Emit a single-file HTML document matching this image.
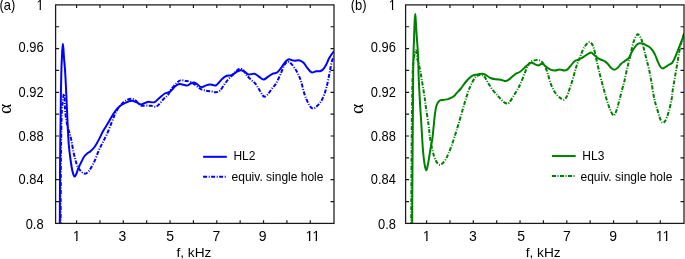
<!DOCTYPE html>
<html><head><meta charset="utf-8"><title>Absorption coefficient</title>
<style>
html,body{margin:0;padding:0;background:#fff;}
body{width:685px;height:259px;overflow:hidden;}
svg{display:block;}
</style></head><body>
<svg width="685" height="259" viewBox="0 0 685 259">
<rect width="685" height="259" fill="#fff"/>
<path d="M76.57,223.40V220.20 M76.57,4.90V8.10 M99.94,223.40V220.20 M99.94,4.90V8.10 M123.31,223.40V220.20 M123.31,4.90V8.10 M146.68,223.40V220.20 M146.68,4.90V8.10 M170.05,223.40V220.20 M170.05,4.90V8.10 M193.42,223.40V220.20 M193.42,4.90V8.10 M216.79,223.40V220.20 M216.79,4.90V8.10 M240.16,223.40V220.20 M240.16,4.90V8.10 M263.53,223.40V220.20 M263.53,4.90V8.10 M286.90,223.40V220.20 M286.90,4.90V8.10 M310.27,223.40V220.20 M310.27,4.90V8.10 M55.60,201.55H59.10 M334.00,201.55H330.50 M55.60,179.70H59.10 M334.00,179.70H330.50 M55.60,157.85H59.10 M334.00,157.85H330.50 M55.60,136.00H59.10 M334.00,136.00H330.50 M55.60,114.15H59.10 M334.00,114.15H330.50 M55.60,92.30H59.10 M334.00,92.30H330.50 M55.60,70.45H59.10 M334.00,70.45H330.50 M55.60,48.60H59.10 M334.00,48.60H330.50 M55.60,26.75H59.10 M334.00,26.75H330.50" stroke="#1a1a1a" stroke-width="1.2" fill="none"/>
<clipPath id="c0"><rect x="55.60" y="4.90" width="278.40" height="218.50"/></clipPath>
<g clip-path="url(#c0)" fill="none" stroke="#0000ff" stroke-width="2" stroke-linejoin="round">
<path d="M60.60,226.00 C60.62,221.67 60.65,211.00 60.70,200.00 C60.75,189.00 60.80,171.67 60.90,160.00 C61.00,148.33 61.13,138.33 61.30,130.00 C61.47,121.67 61.60,115.25 61.90,110.00 C62.20,104.75 62.77,101.18 63.10,98.50 C63.43,95.82 63.63,94.07 63.90,93.90 C64.17,93.73 64.55,95.65 64.70,97.50 C64.85,99.35 64.65,102.08 64.80,105.00 C64.95,107.92 65.20,111.67 65.60,115.00 C66.00,118.33 66.55,122.00 67.20,125.00 C67.85,128.00 68.78,130.33 69.50,133.00 C70.22,135.67 70.87,137.97 71.50,141.00 C72.13,144.03 72.68,148.20 73.30,151.20 C73.92,154.20 74.55,156.58 75.20,159.00 C75.85,161.42 76.22,163.62 77.20,165.70 C78.18,167.78 79.87,170.18 81.10,171.50 C82.33,172.82 83.53,173.43 84.60,173.60 C85.67,173.77 86.50,173.35 87.50,172.50 C88.50,171.65 89.37,170.53 90.60,168.50 C91.83,166.47 93.48,163.43 94.90,160.30 C96.32,157.17 97.68,152.88 99.10,149.70 C100.52,146.52 101.98,144.03 103.40,141.20 C104.82,138.37 106.20,135.88 107.60,132.70 C109.00,129.52 110.55,125.22 111.80,122.10 C113.05,118.98 113.98,116.38 115.10,114.00 C116.22,111.62 117.52,109.33 118.50,107.80 C119.48,106.27 119.88,105.97 121.00,104.80 C122.12,103.63 123.45,101.82 125.20,100.80 C126.95,99.78 129.77,98.73 131.50,98.70 C133.23,98.67 134.43,99.80 135.60,100.60 C136.77,101.40 137.63,102.67 138.50,103.50 C139.37,104.33 139.55,105.25 140.80,105.60 C142.05,105.95 144.25,105.57 146.00,105.60 C147.75,105.63 149.65,105.62 151.30,105.80 C152.95,105.98 154.52,107.03 155.90,106.70 C157.28,106.37 158.28,105.13 159.60,103.80 C160.92,102.47 162.42,100.17 163.80,98.70 C165.18,97.23 166.67,96.57 167.90,95.00 C169.13,93.43 169.80,91.23 171.20,89.30 C172.60,87.37 174.77,84.88 176.30,83.40 C177.83,81.92 178.85,80.82 180.40,80.40 C181.95,79.98 183.87,80.63 185.60,80.90 C187.33,81.17 189.07,81.22 190.80,82.00 C192.53,82.78 194.25,84.38 196.00,85.60 C197.75,86.82 199.55,88.43 201.30,89.30 C203.05,90.17 204.77,90.45 206.50,90.80 C208.23,91.15 210.15,91.15 211.70,91.40 C213.25,91.65 214.42,92.43 215.80,92.30 C217.18,92.17 218.60,91.88 220.00,90.60 C221.40,89.32 222.82,86.48 224.20,84.60 C225.58,82.72 226.85,80.95 228.30,79.30 C229.75,77.65 231.37,76.25 232.90,74.70 C234.43,73.15 236.22,71.03 237.50,70.00 C238.78,68.97 239.57,68.37 240.60,68.50 C241.63,68.63 242.67,69.65 243.70,70.80 C244.73,71.95 245.52,73.85 246.80,75.40 C248.08,76.95 250.03,78.80 251.40,80.10 C252.77,81.40 253.88,81.93 255.00,83.20 C256.12,84.47 257.07,86.05 258.10,87.70 C259.13,89.35 260.17,91.60 261.20,93.10 C262.23,94.60 263.15,96.57 264.30,96.70 C265.45,96.83 266.82,95.27 268.10,93.90 C269.38,92.53 270.72,90.17 272.00,88.50 C273.28,86.83 274.38,86.27 275.80,83.90 C277.22,81.53 279.08,77.43 280.50,74.30 C281.92,71.17 283.15,67.15 284.30,65.10 C285.45,63.05 286.37,62.35 287.40,62.00 C288.43,61.65 289.20,61.85 290.50,63.00 C291.80,64.15 293.78,66.75 295.20,68.90 C296.62,71.05 297.95,73.55 299.00,75.90 C300.05,78.25 300.60,80.00 301.50,83.00 C302.40,86.00 303.40,90.80 304.40,93.90 C305.40,97.00 306.47,99.42 307.50,101.60 C308.53,103.78 309.62,105.83 310.60,107.00 C311.58,108.17 312.37,108.72 313.40,108.60 C314.43,108.48 315.47,107.60 316.80,106.30 C318.13,105.00 320.12,102.87 321.40,100.80 C322.68,98.73 323.60,96.33 324.50,93.90 C325.40,91.47 326.12,88.85 326.80,86.20 C327.48,83.55 328.02,80.87 328.60,78.00 C329.18,75.13 329.70,71.93 330.30,69.00 C330.90,66.07 331.50,62.57 332.20,60.40 C332.90,58.23 334.12,56.73 334.50,56.00" stroke-dasharray="4 1.6 1 1.4"/>
<path d="M59.80,226.00 C59.82,221.67 59.85,211.00 59.90,200.00 C59.95,189.00 59.98,173.33 60.10,160.00 C60.22,146.67 60.46,131.67 60.60,120.00 C60.74,108.33 60.82,98.33 60.95,90.00 C61.08,81.67 61.24,75.33 61.40,70.00 C61.56,64.67 61.75,61.33 61.90,58.00 C62.05,54.67 62.13,52.33 62.30,50.00 C62.47,47.67 62.70,44.00 62.90,44.00 C63.10,44.00 63.32,47.67 63.50,50.00 C63.68,52.33 63.77,55.00 64.00,58.00 C64.23,61.00 64.63,64.33 64.90,68.00 C65.17,71.67 65.37,75.50 65.60,80.00 C65.83,84.50 66.07,90.00 66.30,95.00 C66.53,100.00 66.73,104.17 67.00,110.00 C67.27,115.83 67.60,124.17 67.90,130.00 C68.20,135.83 68.40,140.33 68.80,145.00 C69.20,149.67 69.73,153.83 70.30,158.00 C70.87,162.17 71.53,166.95 72.20,170.00 C72.87,173.05 73.62,175.63 74.30,176.30 C74.98,176.97 75.65,175.28 76.30,174.00 C76.95,172.72 77.40,170.52 78.20,168.60 C79.00,166.68 80.10,164.52 81.10,162.50 C82.10,160.48 83.13,158.05 84.20,156.50 C85.27,154.95 86.45,154.07 87.50,153.20 C88.55,152.33 89.27,152.42 90.50,151.30 C91.73,150.18 93.47,148.53 94.90,146.50 C96.33,144.47 97.68,141.75 99.10,139.10 C100.52,136.45 101.98,133.15 103.40,130.60 C104.82,128.05 106.30,125.98 107.60,123.80 C108.90,121.62 109.95,119.58 111.20,117.50 C112.45,115.42 113.63,113.22 115.10,111.30 C116.57,109.38 118.32,107.40 120.00,106.00 C121.68,104.60 123.28,103.77 125.20,102.90 C127.12,102.03 129.58,100.88 131.50,100.80 C133.42,100.72 135.05,101.80 136.70,102.40 C138.35,103.00 139.58,104.48 141.40,104.40 C143.22,104.32 145.43,102.27 147.60,101.90 C149.77,101.53 152.40,102.90 154.40,102.20 C156.40,101.50 157.87,99.15 159.60,97.70 C161.33,96.25 163.23,94.42 164.80,93.50 C166.37,92.58 167.80,92.82 169.00,92.20 C170.20,91.58 170.97,90.80 172.00,89.80 C173.03,88.80 173.92,87.17 175.20,86.20 C176.48,85.23 177.78,84.10 179.70,84.00 C181.62,83.90 184.90,85.67 186.70,85.60 C188.50,85.53 189.28,84.10 190.50,83.60 C191.72,83.10 192.83,82.45 194.00,82.60 C195.17,82.75 196.28,83.73 197.50,84.50 C198.72,85.27 199.97,87.02 201.30,87.20 C202.63,87.38 204.12,86.05 205.50,85.60 C206.88,85.15 208.35,84.60 209.60,84.50 C210.85,84.40 211.97,84.83 213.00,85.00 C214.03,85.17 214.80,85.92 215.80,85.50 C216.80,85.08 217.95,83.58 219.00,82.50 C220.05,81.42 220.80,80.12 222.10,79.00 C223.40,77.88 225.25,76.43 226.80,75.80 C228.35,75.17 229.87,75.78 231.40,75.20 C232.93,74.62 234.47,73.13 236.00,72.30 C237.53,71.47 239.18,70.32 240.60,70.20 C242.02,70.08 243.22,70.90 244.50,71.60 C245.78,72.30 246.63,74.03 248.30,74.40 C249.97,74.77 252.73,73.43 254.50,73.80 C256.27,74.17 257.40,75.63 258.90,76.60 C260.40,77.57 261.97,79.58 263.50,79.60 C265.03,79.62 266.55,77.70 268.10,76.70 C269.65,75.70 271.25,74.33 272.80,73.60 C274.35,72.87 275.87,73.47 277.40,72.30 C278.93,71.13 280.58,68.45 282.00,66.60 C283.42,64.75 284.73,62.43 285.90,61.20 C287.07,59.97 287.72,59.30 289.00,59.20 C290.28,59.10 291.80,60.40 293.60,60.60 C295.40,60.80 298.13,60.03 299.80,60.40 C301.47,60.77 302.32,61.50 303.60,62.80 C304.88,64.10 306.20,66.62 307.50,68.20 C308.80,69.78 309.98,71.78 311.40,72.30 C312.82,72.82 314.58,71.48 316.00,71.30 C317.42,71.12 318.73,71.50 319.90,71.20 C321.07,70.90 321.98,70.52 323.00,69.50 C324.02,68.48 324.98,66.97 326.00,65.10 C327.02,63.23 328.07,60.23 329.10,58.30 C330.13,56.37 331.30,54.72 332.20,53.50 C333.10,52.28 334.12,51.42 334.50,51.00"/>
</g>
<rect x="55.60" y="4.90" width="278.40" height="218.50" fill="none" stroke="#1a1a1a" stroke-width="1.25"/>
<text transform="translate(43.60,9.90) scale(0.920,1)" text-anchor="end" style="font-family:'Liberation Sans',Arial,sans-serif;font-size:14px">1</text>
<rect x="36.726" y="9" width="2.899" height="1" fill="#fff"/><rect x="40.864" y="9" width="2.799" height="1" fill="#fff"/>
<text transform="translate(43.60,51.60) scale(0.920,1)" text-anchor="end" style="font-family:'Liberation Sans',Arial,sans-serif;font-size:14px">0.96</text>
<text transform="translate(43.60,97.10) scale(0.920,1)" text-anchor="end" style="font-family:'Liberation Sans',Arial,sans-serif;font-size:14px">0.92</text>
<text transform="translate(43.60,140.70) scale(0.920,1)" text-anchor="end" style="font-family:'Liberation Sans',Arial,sans-serif;font-size:14px">0.88</text>
<text transform="translate(43.60,183.90) scale(0.920,1)" text-anchor="end" style="font-family:'Liberation Sans',Arial,sans-serif;font-size:14px">0.84</text>
<text transform="translate(43.60,229.20) scale(0.920,1)" text-anchor="end" style="font-family:'Liberation Sans',Arial,sans-serif;font-size:14px">0.8</text>
<text x="76.57" y="240.60" text-anchor="middle" style="font-family:'Liberation Sans',Arial,sans-serif;font-size:14px">1</text>
<rect x="72.991" y="240" width="3.151" height="1" fill="#fff"/><rect x="77.489" y="240" width="3.042" height="1" fill="#fff"/>
<text x="122.51" y="240.60" text-anchor="middle" style="font-family:'Liberation Sans',Arial,sans-serif;font-size:14px">3</text>
<text x="170.05" y="240.60" text-anchor="middle" style="font-family:'Liberation Sans',Arial,sans-serif;font-size:14px">5</text>
<text x="216.39" y="240.60" text-anchor="middle" style="font-family:'Liberation Sans',Arial,sans-serif;font-size:14px">7</text>
<text x="262.73" y="240.60" text-anchor="middle" style="font-family:'Liberation Sans',Arial,sans-serif;font-size:14px">9</text>
<text x="312.67" y="240.60" text-anchor="middle" style="font-family:'Liberation Sans',Arial,sans-serif;font-size:14px">11</text>
<rect x="305.711" y="240" width="3.151" height="1" fill="#fff"/><rect x="310.209" y="240" width="3.042" height="1" fill="#fff"/>
<rect x="312.445" y="240" width="3.151" height="1" fill="#fff"/><rect x="316.943" y="240" width="3.042" height="1" fill="#fff"/>
<text x="193.90" y="256.50" text-anchor="middle" style="font-family:'Liberation Sans',Arial,sans-serif;font-size:13.7px">f, kHz</text>
<text transform="translate(11.00,108.80) rotate(-90)" text-anchor="middle" style="font-family:'Liberation Serif',serif;font-size:19.5px">&#945;</text>
<text transform="translate(-0.60,9.50) scale(0.925,1)" style="font-family:'Liberation Sans',Arial,sans-serif;font-size:14px">(a)</text>
<path d="M203.10,156.80H226.80" stroke="#0000ff" stroke-width="2"/>
<path d="M203.10,176.80H226.10" stroke="#0000ff" stroke-width="2" stroke-dasharray="4 1.6 1 1.4"/>
<text x="233.40" y="160.00" style="font-family:'Liberation Sans',Arial,sans-serif;font-size:12px">HL2</text>
<text x="231.60" y="181.30" style="font-family:'Liberation Sans',Arial,sans-serif;font-size:12px">equiv. single hole</text>
<path d="M426.57,223.40V220.20 M426.57,4.90V8.10 M449.94,223.40V220.20 M449.94,4.90V8.10 M473.31,223.40V220.20 M473.31,4.90V8.10 M496.68,223.40V220.20 M496.68,4.90V8.10 M520.05,223.40V220.20 M520.05,4.90V8.10 M543.42,223.40V220.20 M543.42,4.90V8.10 M566.79,223.40V220.20 M566.79,4.90V8.10 M590.16,223.40V220.20 M590.16,4.90V8.10 M613.53,223.40V220.20 M613.53,4.90V8.10 M636.90,223.40V220.20 M636.90,4.90V8.10 M660.27,223.40V220.20 M660.27,4.90V8.10 M405.60,201.55H409.10 M684.00,201.55H680.50 M405.60,179.70H409.10 M684.00,179.70H680.50 M405.60,157.85H409.10 M684.00,157.85H680.50 M405.60,136.00H409.10 M684.00,136.00H680.50 M405.60,114.15H409.10 M684.00,114.15H680.50 M405.60,92.30H409.10 M684.00,92.30H680.50 M405.60,70.45H409.10 M684.00,70.45H680.50 M405.60,48.60H409.10 M684.00,48.60H680.50 M405.60,26.75H409.10 M684.00,26.75H680.50" stroke="#1a1a1a" stroke-width="1.2" fill="none"/>
<clipPath id="c350"><rect x="405.60" y="4.90" width="278.40" height="218.50"/></clipPath>
<g clip-path="url(#c350)" fill="none" stroke="#008000" stroke-width="2" stroke-linejoin="round">
<path d="M411.20,226.00 C411.22,221.67 411.23,212.67 411.30,200.00 C411.37,187.33 411.47,166.67 411.60,150.00 C411.73,133.33 411.90,113.33 412.10,100.00 C412.30,86.67 412.48,77.17 412.80,70.00 C413.12,62.83 413.53,60.28 414.00,57.00 C414.47,53.72 415.17,50.80 415.60,50.30 C416.03,49.80 416.27,52.38 416.60,54.00 C416.93,55.62 417.20,58.17 417.60,60.00 C418.00,61.83 418.52,63.00 419.00,65.00 C419.48,67.00 420.03,69.50 420.50,72.00 C420.97,74.50 421.33,77.17 421.80,80.00 C422.27,82.83 422.83,86.17 423.30,89.00 C423.77,91.83 424.15,93.83 424.60,97.00 C425.05,100.17 425.33,103.33 426.00,108.00 C426.67,112.67 427.97,120.33 428.60,125.00 C429.23,129.67 429.33,132.60 429.80,136.00 C430.27,139.40 430.65,141.90 431.40,145.40 C432.15,148.90 433.33,154.10 434.30,157.00 C435.27,159.90 436.23,161.52 437.20,162.80 C438.17,164.08 438.97,164.85 440.10,164.70 C441.23,164.55 442.72,163.50 444.00,161.90 C445.28,160.30 446.52,157.85 447.80,155.10 C449.08,152.35 450.42,148.93 451.70,145.40 C452.98,141.87 454.40,137.35 455.50,133.90 C456.60,130.45 457.12,128.68 458.30,124.70 C459.48,120.72 461.30,114.45 462.60,110.00 C463.90,105.55 464.80,102.00 466.10,98.00 C467.40,94.00 468.95,89.33 470.40,86.00 C471.85,82.67 473.63,79.75 474.80,78.00 C475.97,76.25 476.37,76.00 477.40,75.50 C478.43,75.00 479.85,74.83 481.00,75.00 C482.15,75.17 483.17,75.27 484.30,76.50 C485.43,77.73 486.48,80.27 487.80,82.40 C489.12,84.53 490.60,87.13 492.20,89.30 C493.80,91.47 495.88,93.67 497.40,95.40 C498.92,97.13 499.88,98.38 501.30,99.70 C502.72,101.02 504.62,102.78 505.90,103.30 C507.18,103.82 507.72,104.03 509.00,102.80 C510.28,101.57 512.05,98.35 513.60,95.90 C515.15,93.45 517.15,90.15 518.30,88.10 C519.45,86.05 519.50,85.90 520.50,83.60 C521.50,81.30 523.15,77.13 524.30,74.30 C525.45,71.47 526.37,68.65 527.40,66.60 C528.43,64.55 529.33,63.03 530.50,62.00 C531.67,60.97 533.12,60.72 534.40,60.40 C535.68,60.08 537.05,59.97 538.20,60.10 C539.35,60.23 540.27,60.37 541.30,61.20 C542.33,62.03 543.37,63.17 544.40,65.10 C545.43,67.03 546.50,69.87 547.50,72.80 C548.50,75.73 549.43,79.92 550.40,82.70 C551.37,85.48 552.17,87.40 553.30,89.50 C554.43,91.60 555.90,93.78 557.20,95.30 C558.50,96.82 559.97,97.87 561.10,98.60 C562.23,99.33 563.03,100.10 564.00,99.70 C564.97,99.30 565.95,98.07 566.90,96.20 C567.85,94.33 568.75,91.23 569.70,88.50 C570.65,85.77 571.75,82.55 572.60,79.80 C573.45,77.05 574.10,74.45 574.80,72.00 C575.50,69.55 575.95,67.55 576.80,65.10 C577.65,62.65 578.87,59.88 579.90,57.30 C580.93,54.72 582.07,51.57 583.00,49.60 C583.93,47.63 584.58,46.72 585.50,45.50 C586.42,44.28 587.48,42.63 588.50,42.30 C589.52,41.97 590.68,42.40 591.60,43.50 C592.52,44.60 593.22,46.32 594.00,48.90 C594.78,51.48 595.48,55.42 596.30,59.00 C597.12,62.58 597.95,66.43 598.90,70.40 C599.85,74.37 601.10,79.37 602.00,82.80 C602.90,86.23 603.53,88.25 604.30,91.00 C605.07,93.75 605.70,96.38 606.60,99.30 C607.50,102.22 608.55,105.80 609.70,108.50 C610.85,111.20 612.35,115.23 613.50,115.50 C614.65,115.77 615.68,112.42 616.60,110.10 C617.52,107.78 618.10,104.95 619.00,101.60 C619.90,98.25 621.10,93.40 622.00,90.00 C622.90,86.60 623.50,84.98 624.40,81.20 C625.30,77.42 626.50,71.15 627.40,67.30 C628.30,63.45 629.12,60.98 629.80,58.10 C630.48,55.22 630.78,52.95 631.50,50.00 C632.22,47.05 633.15,42.97 634.10,40.40 C635.05,37.83 636.30,35.37 637.20,34.60 C638.10,33.83 638.73,34.83 639.50,35.80 C640.27,36.77 641.03,38.08 641.80,40.40 C642.57,42.72 643.33,46.60 644.10,49.70 C644.87,52.80 645.58,55.78 646.40,59.00 C647.22,62.22 648.17,65.17 649.00,69.00 C649.83,72.83 650.50,76.95 651.40,82.00 C652.30,87.05 653.38,94.62 654.40,99.30 C655.42,103.98 656.60,107.02 657.50,110.10 C658.40,113.18 659.02,115.70 659.80,117.80 C660.58,119.90 661.30,122.18 662.20,122.70 C663.10,123.22 664.18,122.50 665.20,120.90 C666.22,119.30 667.27,116.50 668.30,113.10 C669.33,109.70 670.68,104.18 671.40,100.50 C672.12,96.82 672.12,94.28 672.60,91.00 C673.08,87.72 673.73,84.12 674.30,80.80 C674.87,77.48 675.48,74.10 676.00,71.10 C676.52,68.10 676.93,65.57 677.40,62.80 C677.87,60.03 678.28,57.30 678.80,54.50 C679.32,51.70 679.88,48.67 680.50,46.00 C681.12,43.33 681.83,40.83 682.50,38.50 C683.17,36.17 684.17,33.08 684.50,32.00" stroke-dasharray="4 1.6 1 1.4"/>
<path d="M412.15,226.00 C412.17,221.67 412.18,212.67 412.25,200.00 C412.32,187.33 412.48,166.67 412.60,150.00 C412.73,133.33 412.90,113.33 413.00,100.00 C413.10,86.67 413.10,78.33 413.20,70.00 C413.30,61.67 413.47,55.00 413.60,50.00 C413.73,45.00 413.88,43.33 414.00,40.00 C414.12,36.67 414.18,33.33 414.30,30.00 C414.42,26.67 414.54,22.68 414.70,20.00 C414.86,17.32 415.07,13.90 415.25,13.90 C415.43,13.90 415.57,17.32 415.75,20.00 C415.93,22.68 416.09,26.67 416.30,30.00 C416.51,33.33 416.78,37.00 417.00,40.00 C417.22,43.00 417.38,44.67 417.60,48.00 C417.82,51.33 418.13,55.50 418.30,60.00 C418.47,64.50 418.43,70.00 418.60,75.00 C418.77,80.00 419.05,85.00 419.30,90.00 C419.55,95.00 419.75,99.17 420.10,105.00 C420.45,110.83 420.95,117.83 421.40,125.00 C421.85,132.17 422.30,141.67 422.80,148.00 C423.30,154.33 423.83,159.30 424.40,163.00 C424.97,166.70 425.60,170.03 426.20,170.20 C426.80,170.37 427.45,166.53 428.00,164.00 C428.55,161.47 429.00,158.00 429.50,155.00 C430.00,152.00 430.52,148.75 431.00,146.00 C431.48,143.25 431.95,141.83 432.40,138.50 C432.85,135.17 433.28,130.00 433.70,126.00 C434.12,122.00 434.42,117.95 434.90,114.50 C435.38,111.05 435.83,107.58 436.60,105.30 C437.37,103.02 438.38,101.70 439.50,100.80 C440.62,99.90 441.85,100.18 443.30,99.90 C444.75,99.62 446.75,99.53 448.20,99.10 C449.65,98.67 450.90,97.88 452.00,97.30 C453.10,96.72 454.05,96.28 454.80,95.60 C455.55,94.92 455.48,94.38 456.50,93.20 C457.52,92.02 459.30,90.45 460.90,88.50 C462.50,86.55 464.37,83.53 466.10,81.50 C467.83,79.47 469.57,77.45 471.30,76.30 C473.03,75.15 474.77,75.02 476.50,74.60 C478.23,74.18 480.25,73.80 481.70,73.80 C483.15,73.80 483.75,73.90 485.20,74.60 C486.65,75.30 488.57,77.22 490.40,78.00 C492.23,78.78 494.47,79.02 496.20,79.30 C497.93,79.58 499.50,79.45 500.80,79.70 C502.10,79.95 503.05,80.60 504.00,80.80 C504.95,81.00 505.48,81.27 506.50,80.90 C507.52,80.53 508.60,79.75 510.10,78.60 C511.60,77.45 513.90,75.10 515.50,74.00 C517.10,72.90 518.23,72.98 519.70,72.00 C521.17,71.02 522.75,69.47 524.30,68.10 C525.85,66.73 527.72,64.70 529.00,63.80 C530.28,62.90 530.98,62.62 532.00,62.70 C533.02,62.78 534.07,63.85 535.10,64.30 C536.13,64.75 537.03,65.48 538.20,65.40 C539.37,65.32 540.82,63.60 542.10,63.80 C543.38,64.00 544.48,65.62 545.90,66.60 C547.32,67.58 549.05,69.05 550.60,69.70 C552.15,70.35 553.67,70.55 555.20,70.50 C556.73,70.45 558.27,69.40 559.80,69.40 C561.33,69.40 563.12,70.50 564.40,70.50 C565.68,70.50 566.47,70.18 567.50,69.40 C568.53,68.62 569.43,67.17 570.60,65.80 C571.77,64.43 573.22,62.22 574.50,61.20 C575.78,60.18 577.12,60.20 578.30,59.70 C579.48,59.20 580.28,58.97 581.60,58.20 C582.92,57.43 584.65,56.05 586.20,55.10 C587.75,54.15 589.62,52.55 590.90,52.50 C592.18,52.45 592.92,54.02 593.90,54.80 C594.88,55.58 595.83,56.47 596.80,57.20 C597.77,57.93 598.42,58.55 599.70,59.20 C600.98,59.85 603.13,60.30 604.50,61.10 C605.87,61.90 606.78,62.87 607.90,64.00 C609.02,65.13 610.08,66.93 611.20,67.90 C612.32,68.87 613.47,69.88 614.60,69.80 C615.73,69.72 616.95,68.37 618.00,67.40 C619.05,66.43 619.78,65.05 620.90,64.00 C622.02,62.95 623.42,62.07 624.70,61.10 C625.98,60.13 627.63,59.25 628.60,58.20 C629.57,57.15 629.85,56.03 630.50,54.80 C631.15,53.57 631.52,52.42 632.50,50.80 C633.48,49.18 635.23,46.37 636.40,45.10 C637.57,43.83 638.35,43.42 639.50,43.20 C640.65,42.98 642.38,43.57 643.30,43.80 C644.22,44.03 644.03,44.10 645.00,44.60 C645.97,45.10 647.87,45.88 649.10,46.80 C650.33,47.72 651.40,48.75 652.40,50.10 C653.40,51.45 654.20,52.98 655.10,54.90 C656.00,56.82 656.90,59.58 657.80,61.60 C658.70,63.62 659.70,65.87 660.50,67.00 C661.30,68.13 661.80,68.40 662.60,68.40 C663.40,68.40 664.30,67.57 665.30,67.00 C666.30,66.43 667.48,65.67 668.60,65.00 C669.72,64.33 670.98,64.13 672.00,63.00 C673.02,61.87 673.80,60.12 674.70,58.20 C675.60,56.28 676.50,53.75 677.40,51.50 C678.30,49.25 679.30,46.70 680.10,44.70 C680.90,42.70 681.47,41.37 682.20,39.50 C682.93,37.63 684.12,34.50 684.50,33.50"/>
</g>
<rect x="405.60" y="4.90" width="278.40" height="218.50" fill="none" stroke="#1a1a1a" stroke-width="1.25"/>
<text transform="translate(395.90,9.90) scale(0.920,1)" text-anchor="end" style="font-family:'Liberation Sans',Arial,sans-serif;font-size:14px">1</text>
<rect x="389.026" y="9" width="2.899" height="1" fill="#fff"/><rect x="393.164" y="9" width="2.799" height="1" fill="#fff"/>
<text transform="translate(395.90,51.60) scale(0.920,1)" text-anchor="end" style="font-family:'Liberation Sans',Arial,sans-serif;font-size:14px">0.96</text>
<text transform="translate(395.90,97.10) scale(0.920,1)" text-anchor="end" style="font-family:'Liberation Sans',Arial,sans-serif;font-size:14px">0.92</text>
<text transform="translate(395.90,140.70) scale(0.920,1)" text-anchor="end" style="font-family:'Liberation Sans',Arial,sans-serif;font-size:14px">0.88</text>
<text transform="translate(395.90,183.90) scale(0.920,1)" text-anchor="end" style="font-family:'Liberation Sans',Arial,sans-serif;font-size:14px">0.84</text>
<text transform="translate(395.90,229.20) scale(0.920,1)" text-anchor="end" style="font-family:'Liberation Sans',Arial,sans-serif;font-size:14px">0.8</text>
<text x="426.57" y="240.60" text-anchor="middle" style="font-family:'Liberation Sans',Arial,sans-serif;font-size:14px">1</text>
<rect x="422.991" y="240" width="3.151" height="1" fill="#fff"/><rect x="427.489" y="240" width="3.042" height="1" fill="#fff"/>
<text x="473.01" y="240.60" text-anchor="middle" style="font-family:'Liberation Sans',Arial,sans-serif;font-size:14px">3</text>
<text x="521.05" y="240.60" text-anchor="middle" style="font-family:'Liberation Sans',Arial,sans-serif;font-size:14px">5</text>
<text x="566.84" y="240.60" text-anchor="middle" style="font-family:'Liberation Sans',Arial,sans-serif;font-size:14px">7</text>
<text x="613.08" y="240.60" text-anchor="middle" style="font-family:'Liberation Sans',Arial,sans-serif;font-size:14px">9</text>
<text x="662.97" y="240.60" text-anchor="middle" style="font-family:'Liberation Sans',Arial,sans-serif;font-size:14px">11</text>
<rect x="656.011" y="240" width="3.151" height="1" fill="#fff"/><rect x="660.510" y="240" width="3.042" height="1" fill="#fff"/>
<rect x="662.745" y="240" width="3.151" height="1" fill="#fff"/><rect x="667.244" y="240" width="3.042" height="1" fill="#fff"/>
<text x="543.20" y="256.50" text-anchor="middle" style="font-family:'Liberation Sans',Arial,sans-serif;font-size:13.7px">f, kHz</text>
<text transform="translate(363.20,108.80) rotate(-90)" text-anchor="middle" style="font-family:'Liberation Serif',serif;font-size:19.5px">&#945;</text>
<text transform="translate(350.70,9.50) scale(0.925,1)" style="font-family:'Liberation Sans',Arial,sans-serif;font-size:14px">(b)</text>
<path d="M552.00,156.05H575.70" stroke="#008000" stroke-width="2"/>
<path d="M552.00,176.05H575.00" stroke="#008000" stroke-width="2" stroke-dasharray="4 1.6 1 1.4"/>
<text x="582.30" y="159.60" style="font-family:'Liberation Sans',Arial,sans-serif;font-size:12px">HL3</text>
<text x="580.50" y="181.00" style="font-family:'Liberation Sans',Arial,sans-serif;font-size:12px">equiv. single hole</text>
</svg>
</body></html>
